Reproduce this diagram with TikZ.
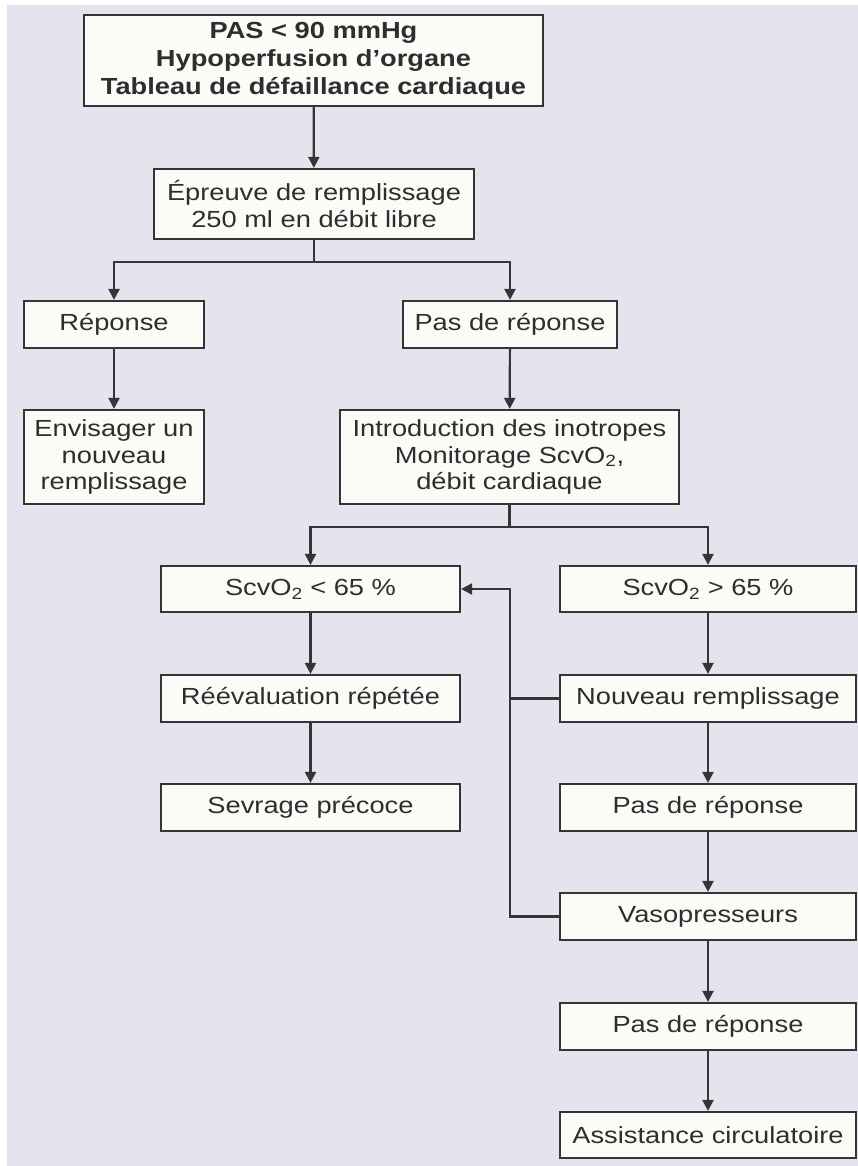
\documentclass[tikz,border=0pt]{standalone}
\usepackage{fontspec}
\setmainfont{Liberation Sans}[FakeStretch=1.17]
\usetikzlibrary{arrows.meta}
\definecolor{bgc}{HTML}{E5E4EE}
\definecolor{boxfill}{HTML}{FCFBF8}
\definecolor{ink}{HTML}{353535}
\definecolor{txt}{HTML}{2E2E2E}
\begin{document}
\begin{tikzpicture}[x=1pt,y=-1pt,
  box/.style={draw=ink, line width=2.2pt, fill=boxfill, text=txt, align=center,
    inner sep=0pt, font=\fontsize{23.3}{26.5}\selectfont},
  arr/.style={draw=ink, line width=2.2pt, -{Triangle[length=11pt,width=11pt]}},
  ln/.style={draw=ink, line width=2.2pt}]
\useasboundingbox (0,0) rectangle (858,1166);
\fill[white] (0,0) rectangle (858,1166);
\fill[bgc] (7,5) rectangle (858,1166);
% nodes
\node[box, minimum width=459pt, minimum height=91pt, font=\fontsize{23.3}{28}\selectfont\bfseries] (top) at (313.5,60.5)
  {PAS < 90 mmHg\\Hypoperfusion d'organe\\Tableau de défaillance cardiaque};
\node[box, minimum width=320pt, minimum height=70pt] (epr) at (314,204)
  {Épreuve de remplissage\\250 ml en débit libre};
\node[box, minimum width=180pt, minimum height=47pt] (rep) at (114,324.5) {Réponse};
\node[box, minimum width=214pt, minimum height=47pt] (pr1) at (510,324.5) {Pas de réponse};
\node[box, minimum width=180pt, minimum height=94pt] (env) at (114,457)
  {Envisager un\\nouveau\\remplissage};
\node[box, minimum width=339pt, minimum height=94pt] (intro) at (509.5,457)
  {Introduction des inotropes\\Monitorage ScvO\textsubscript{2},\\débit cardiaque};
\node[box, minimum width=299pt, minimum height=46pt] (lo) at (310.5,589) {ScvO\textsubscript{2} < 65 \%};
\node[box, minimum width=296pt, minimum height=46pt] (hi) at (708,589) {ScvO\textsubscript{2} > 65 \%};
\node[box, minimum width=299pt, minimum height=47pt] (reev) at (310.5,698.5) {Réévaluation répétée};
\node[box, minimum width=299pt, minimum height=47pt] (sev) at (310.5,807.5) {Sevrage précoce};
\node[box, minimum width=296pt, minimum height=47pt] (nouv) at (708,698.5) {Nouveau remplissage};
\node[box, minimum width=296pt, minimum height=47pt] (pr2) at (708,807.5) {Pas de réponse};
\node[box, minimum width=296pt, minimum height=47pt] (vaso) at (708,916.5) {Vasopresseurs};
\node[box, minimum width=296pt, minimum height=47pt] (pr3) at (708,1026.5) {Pas de réponse};
\node[box, minimum width=296pt, minimum height=46pt] (assist) at (708,1135) {Assistance circulatoire};
% connectors
\draw[arr] (top) -- (epr);
\coordinate (s1) at (314,262);
\draw[ln] (epr.south) -- (s1);
\draw[arr] (s1) -| (rep.north);
\draw[arr] (s1) -| (pr1.north);
\draw[arr] (rep) -- (env);
\draw[arr] (pr1) -- (intro);
\coordinate (s2) at (509.5,527);
\draw[ln] (intro.south) -- (s2);
\draw[arr] (s2) -| (lo.north);
\draw[arr] (s2) -| (hi.north);
\draw[arr] (lo) -- (reev);
\draw[arr] (reev) -- (sev);
\draw[arr] (hi) -- (nouv);
\draw[arr] (nouv) -- (pr2);
\draw[arr] (pr2) -- (vaso);
\draw[arr] (vaso) -- (pr3);
\draw[arr] (pr3) -- (assist);
\coordinate (fb) at (510,589);
\draw[ln] (nouv.west) -- (nouv.west -| fb);
\draw[arr] (vaso.west) -| (fb) -- (lo.east);
\end{tikzpicture}
\end{document}
